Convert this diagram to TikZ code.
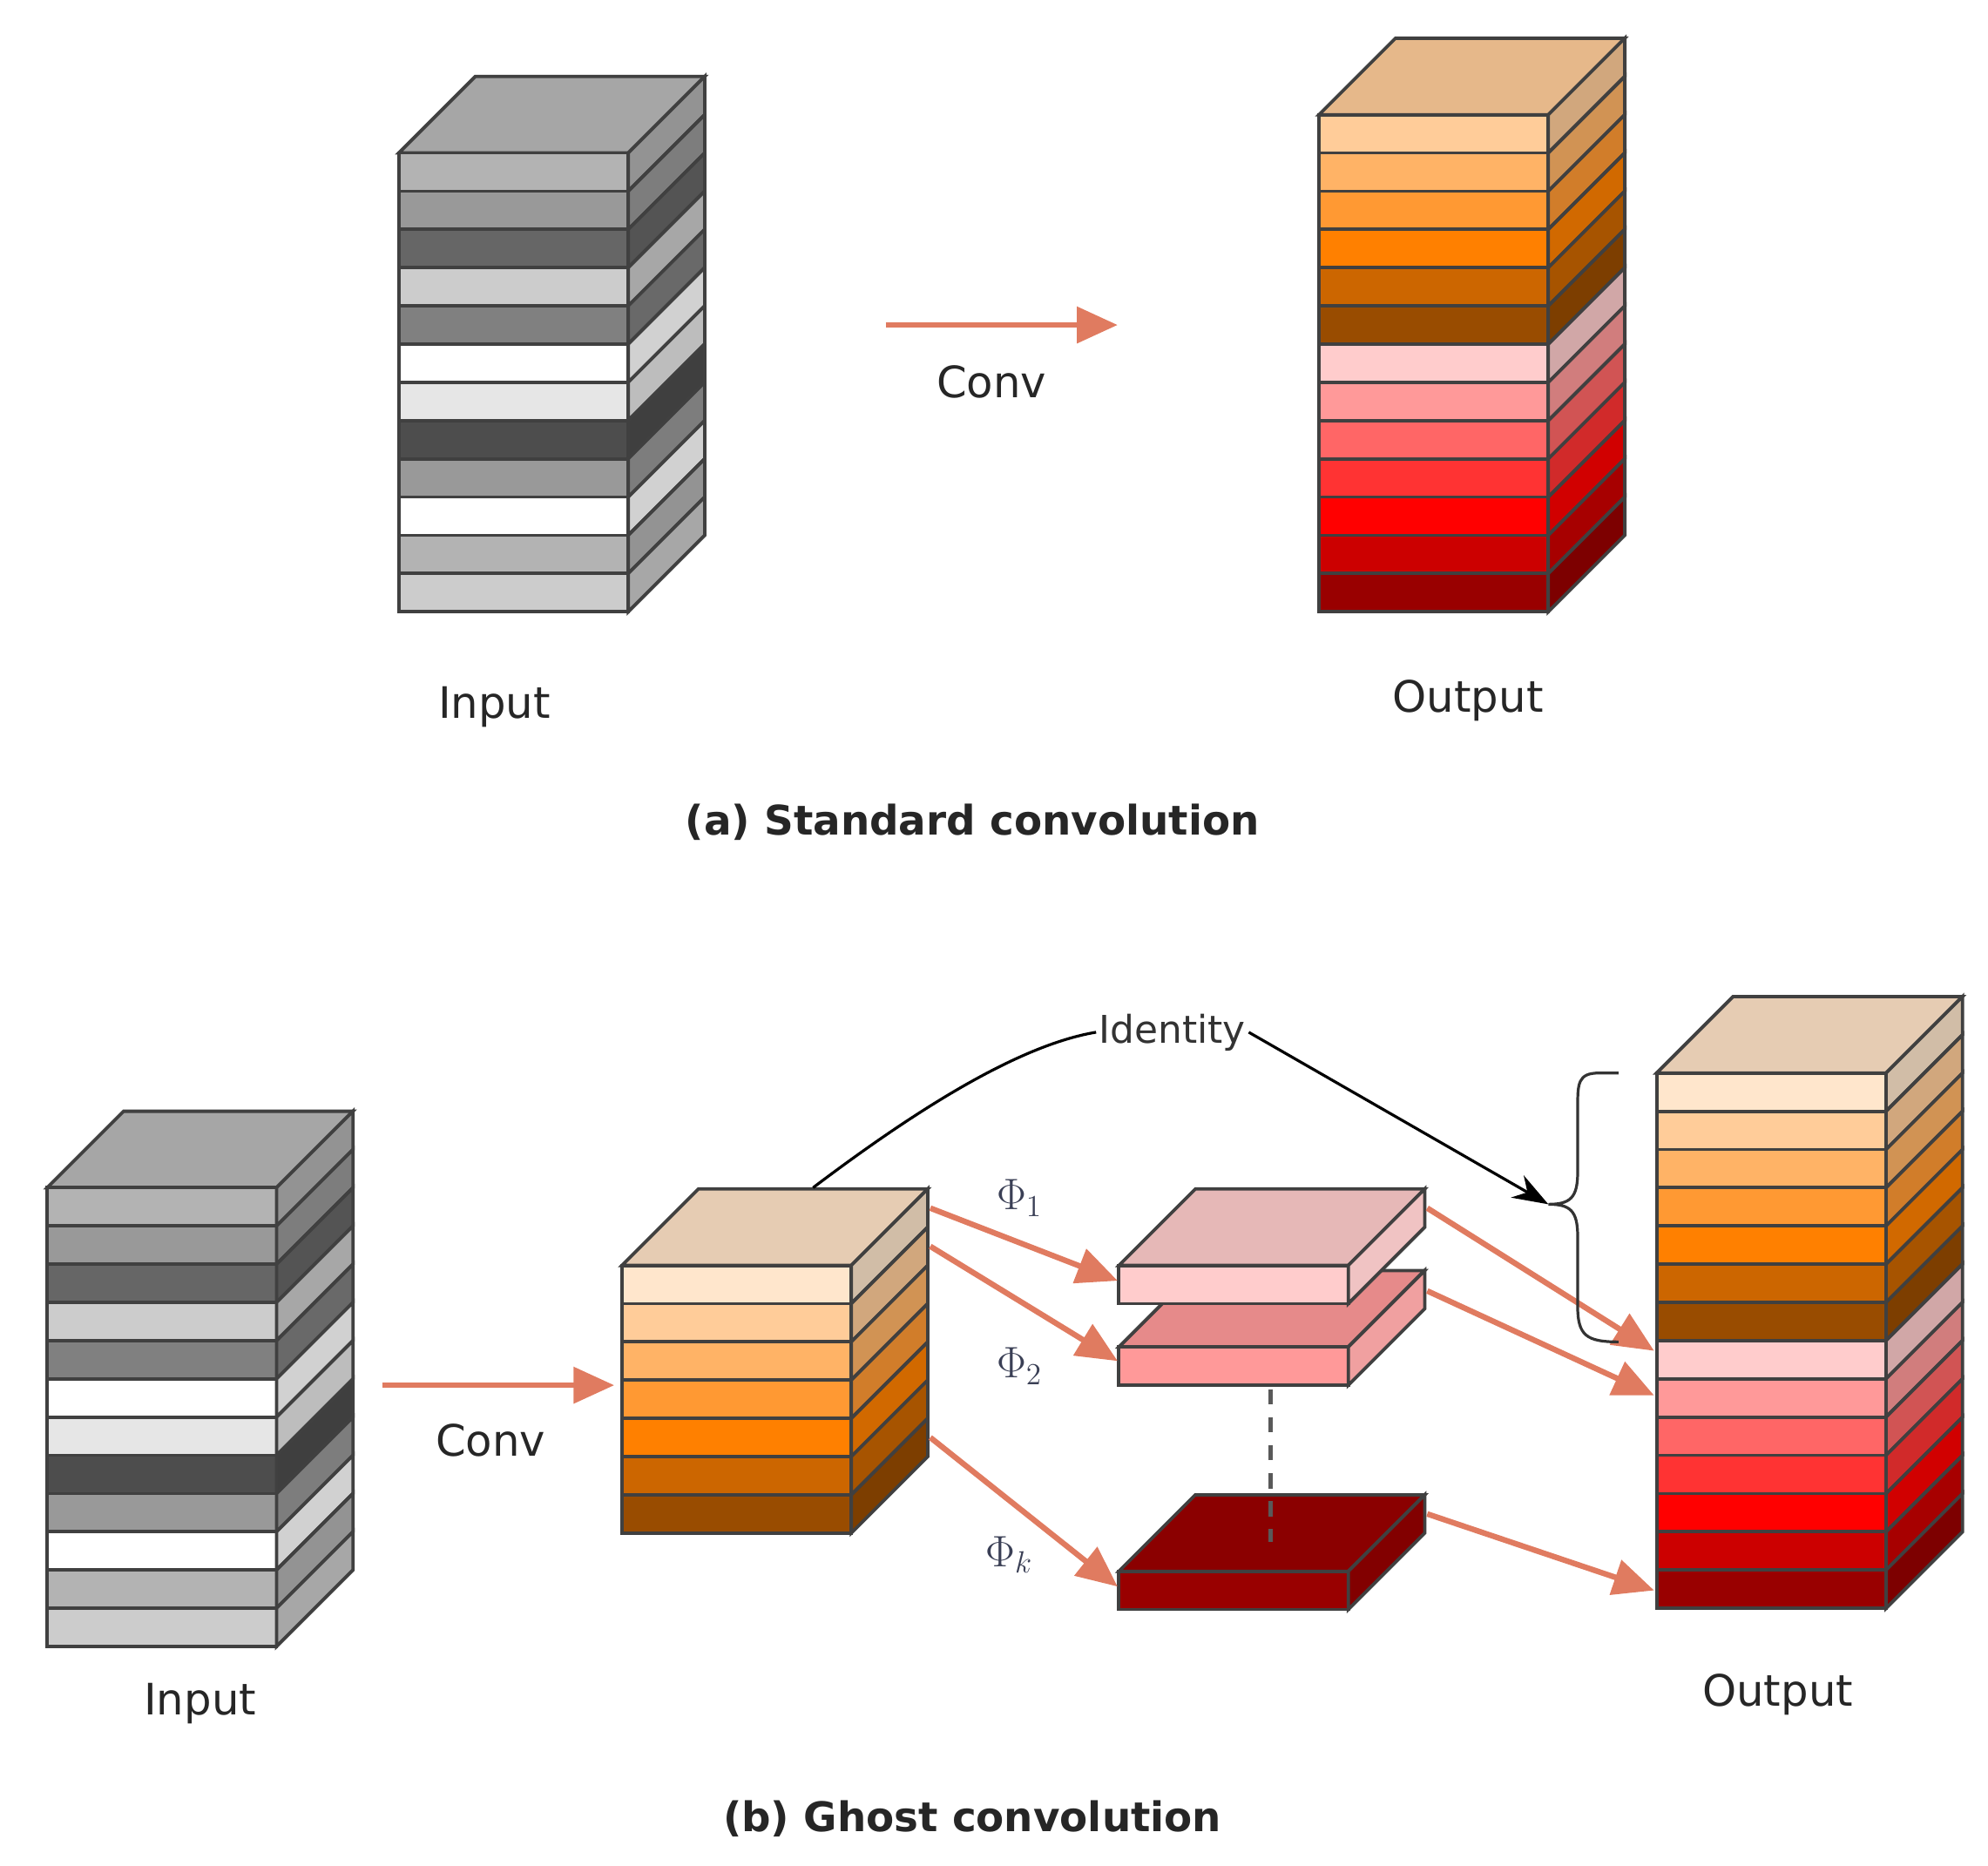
\documentclass[tikz,border=0pt]{standalone}
\usepackage{fontspec}
\setmainfont{DejaVu Sans}
\usetikzlibrary{arrows.meta}
\definecolor{arr}{HTML}{E07B60}
\definecolor{gA}{HTML}{B3B3B3}\definecolor{gB}{HTML}{999999}\definecolor{gC}{HTML}{666666}
\definecolor{gD}{HTML}{CCCCCC}\definecolor{gE}{HTML}{808080}\definecolor{gF}{HTML}{FFFFFF}
\definecolor{gG}{HTML}{E6E6E6}\definecolor{gH}{HTML}{4D4D4D}\definecolor{gTop}{HTML}{A6A6A6}
\definecolor{oA}{HTML}{FFE6CC}\definecolor{oB}{HTML}{FFCC99}\definecolor{oC}{HTML}{FFB366}
\definecolor{oD}{HTML}{FF9933}\definecolor{oE}{HTML}{FF8000}\definecolor{oF}{HTML}{CC6600}
\definecolor{oG}{HTML}{994C00}
\definecolor{rA}{HTML}{FFCCCC}\definecolor{rB}{HTML}{FF9999}\definecolor{rC}{HTML}{FF6666}
\definecolor{rD}{HTML}{FF3333}\definecolor{rE}{HTML}{FF0000}\definecolor{rF}{HTML}{CC0000}
\definecolor{rG}{HTML}{990000}
\definecolor{tTan}{HTML}{E6B88A}\definecolor{tBeige}{HTML}{E6CCB3}
\definecolor{s1top}{HTML}{E6B8B7}\definecolor{s1side}{HTML}{F0C3C3}
\definecolor{s2top}{HTML}{E68A8A}\definecolor{s2side}{HTML}{F0A0A0}
\definecolor{skTop}{HTML}{8B0000}\definecolor{skSide}{HTML}{820000}
\definecolor{phc}{HTML}{3A3F55}
\tikzset{
  lay/.style={draw=black!75,line width=1.3pt},
  conn/.style={arr,line width=2.2pt,-{Triangle[length=16pt,width=14pt]}},
  lbl/.style={font=\fontsize{17}{20}\selectfont,text=black!85},
  captxt/.style={font=\fontsize{16}{19}\selectfont\bfseries,text=black!85},
}
\newcommand{\stk}[4]{%
  \fill[#3,lay] (#1,#2) -- ++(60,-60) -- ++(180,0) -- ++(-60,60) -- cycle;
  \foreach \c [count=\i from 0] in {#4} {
    \pgfmathsetmacro{\yy}{#2+30*\i}
    \fill[lay,fill=\c] (#1,\yy) rectangle ++(180,30);
    \fill[lay,fill=\c!82!black] (#1+180,\yy) -- ++(60,-60) -- ++(0,30) -- ++(-60,60) -- cycle;
  }
}
\newcommand{\slab}[5]{%
  \fill[#3,lay] (#1,#2) -- ++(60,-60) -- ++(180,0) -- ++(-60,60) -- cycle;
  \fill[#4,lay] (#1,#2) rectangle ++(180,30);
  \fill[#5,lay] (#1+180,#2) -- ++(60,-60) -- ++(0,30) -- ++(-60,60) -- cycle;
}
\begin{document}
\begin{tikzpicture}[x=0.5pt,y=-0.5pt]
\useasboundingbox (0,0) rectangle (1560,1464);
% (a)
\stk{313}{120}{gTop}{gA,gB,gC,gD,gE,gF,gG,gH,gB,gF,gA,gD}
\stk{1035}{90}{tTan}{oB,oC,oD,oE,oF,oG,rA,rB,rC,rD,rE,rF,rG}
\coordinate (a1) at (695,255); \coordinate (a2) at (877,255);
\draw[conn] (a1) -- (a2);
\node[lbl] (convA) at (778,300) {Conv};
\node[lbl] (inA) at (388,555) {Input};
\node[lbl] (outA) at (1152,550) {Output};
\node[captxt] (capA) at (763,645) {(a) Standard convolution};
% (b)
\stk{37}{932}{gTop}{gA,gB,gC,gD,gE,gF,gG,gH,gB,gF,gA,gD}
\stk{488}{993}{tBeige}{oA,oB,oC,oD,oE,oF,oG}
\stk{1300}{842}{tBeige}{oA,oB,oC,oD,oE,oF,oG,rA,rB,rC,rD,rE,rF,rG}
\slab{878}{1057}{s2top}{rB}{s2side}
\slab{878}{993}{s1top}{rA}{s1side}
\slab{878}{1233}{skTop}{rG}{skSide}
\coordinate (d1) at (997,1090); \coordinate (d2) at (997,1210);
\draw[black!65,line width=1.5pt,dash pattern=on 6pt off 5pt] (d1) -- (d2);
\coordinate (b1) at (300,1087); \coordinate (b2) at (482,1087);
\draw[conn] (b1) -- (b2);
\node[lbl] (convB) at (385,1130) {Conv};
\coordinate (m1) at (730,948); \coordinate (p1) at (877,1005);
\coordinate (m2) at (730,978); \coordinate (p2) at (877,1068);
\coordinate (m3) at (730,1128); \coordinate (p3) at (877,1245);
\draw[conn] (m1) -- (p1);
\draw[conn] (m2) -- (p2);
\draw[conn] (m3) -- (p3);
\coordinate (s1) at (1120,948); \coordinate (o1) at (1298,1060);
\coordinate (s2) at (1120,1013); \coordinate (o2) at (1298,1095);
\coordinate (s3) at (1120,1188); \coordinate (o3) at (1298,1248);
\draw[conn] (s1) -- (o1);
\draw[conn] (s2) -- (o2);
\draw[conn] (s3) -- (o3);
\node[lbl,text=phc] (ph1) at (800,940) {$\Phi_1$};
\node[lbl,text=phc] (ph2) at (800,1072) {$\Phi_2$};
\node[lbl,text=phc] (phk) at (792,1220) {$\Phi_k$};
\node[font=\fontsize{15}{18}\selectfont,inner sep=1pt,text=black!80] (id) at (920,810) {Identity};
\coordinate (c0) at (638,932);
\coordinate (br) at (1215,945);
\draw[line width=1.1pt] (c0) .. controls (720,870) and (800,820) .. (id.west);
\draw[line width=1.1pt,-{Stealth[length=14pt,width=10pt]}] (id.east) -- (br);
\draw[line width=1.1pt,black!80] (1270,842) -- (1255,842) .. controls (1238,842) and (1238,850) .. (1238,870) -- (1238,920) .. controls (1238,940) and (1232,945) .. (1215,945) .. controls (1232,945) and (1238,950) .. (1238,970) -- (1238,1025) .. controls (1238,1048) and (1245,1053) .. (1270,1053);
\node[lbl] (inB) at (157,1337) {Input};
\node[lbl] (outB) at (1395,1330) {Output};
\node[captxt] (capB) at (763,1427) {(b) Ghost convolution};
\end{tikzpicture}
\end{document}
